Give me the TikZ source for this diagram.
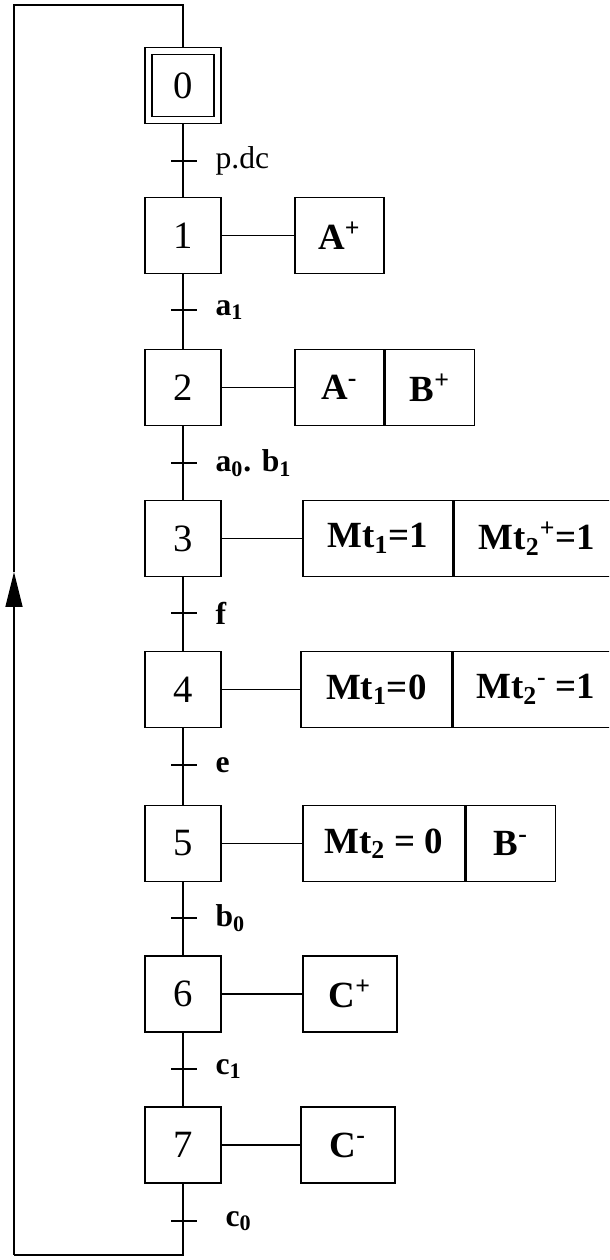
\documentclass[tikz,border=0pt]{standalone}
\usepackage{fontspec}
\setmainfont{Liberation Serif}
\usetikzlibrary{arrows.meta}
\tikzset{
  etape/.style={draw, minimum width=1.52cm, minimum height=1.52cm, font=\fontsize{22}{22}\selectfont},
  action/.style={draw, minimum height=1.52cm, anchor=west, font=\fontsize{21}{21}\selectfont\bfseries},
  recep/.style={anchor=west, font=\fontsize{18}{18}\selectfont\bfseries},
}
\begin{document}
\begin{tikzpicture}[x=0.02cm, y=-0.02cm, line width=0.9pt]
\clip (0,0) rectangle (609,1260);
% etapes
\node[etape] (s0) at (183,85.5) {};
\node[draw, minimum width=1.24cm, minimum height=1.24cm, font=\fontsize{22}{22}\selectfont] (s0i) at (s0) {0};
\node[etape] (s1) at (183,235.5) {1};
\node[etape] (s2) at (183,387.5) {2};
\node[etape] (s3) at (183,538.5) {3};
\node[etape] (s4) at (183,689.5) {4};
\node[etape] (s5) at (183,843.5) {5};
\node[etape] (s6) at (183,994) {6};
\node[etape] (s7) at (183,1145) {7};
\foreach \i/\j in {0/1,1/2,2/3,3/4,4/5,5/6,6/7}
  \draw (s\i) -- (s\j);
% actions
\node[action, minimum width=1.78cm] (act1) at (294,235.5) {A\textsuperscript{+}};
\node[action, minimum width=1.78cm] (act2a) at (294,387.5) {A\textsuperscript{-}};
\node[action, minimum width=1.78cm] (act2b) at (act2a.east) {B\textsuperscript{+}};
\node[action, minimum width=3cm] (act3a) at (302,538.5) {Mt\textsubscript{1}=1};
\node[action, minimum width=3.3cm] (act3b) at (act3a.east) {Mt\textsubscript{2}\textsuperscript{+}=1\hspace{0.35cm}};
\node[action, minimum width=3.02cm] (act4a) at (300,689.5) {Mt\textsubscript{1}=0};
\node[action, minimum width=3.3cm] (act4b) at (act4a.east) {Mt\textsubscript{2}\textsuperscript{-} =1\hspace{0.35cm}};
\node[action, minimum width=3.24cm] (act5a) at (302,843.5) {Mt\textsubscript{2} = 0};
\node[action, minimum width=1.78cm] (act5b) at (act5a.east) {B\textsuperscript{-}};
\node[action, minimum width=1.88cm] (act6) at (302,994) {C\textsuperscript{+}};
\node[action, minimum width=1.88cm] (act7) at (300,1145) {C\textsuperscript{-}};
\foreach \i/\a in {1/act1,2/act2a,3/act3a,4/act4a,5/act5a,6/act6,7/act7}
  \draw (s\i) -- (\a);
% receptivites
\foreach \n/\y/\txt in {0/161/{\mdseries p.dc},1/310/{a\textsubscript{1}},2/463/{a\textsubscript{0}. b\textsubscript{1}},
    3/613/f,4/765/e,5/918/{b\textsubscript{0}},6/1069/{c\textsubscript{1}},7/1221/{\hspace{0.2cm}c\textsubscript{0}}}{
  \coordinate (t\n) at (183,\y);
  \draw ([xshift=-0.24cm]t\n) -- ([xshift=0.28cm]t\n);
  \node[recep] (r\n) at (209,\y) {\txt};
}
% bouclage
\coordinate (bas) at (183,1255);
\coordinate (basg) at (14,1255);
\coordinate (fleche) at (14,572);
\coordinate (hautg) at (14,5);
\coordinate (haut) at (183,5);
\draw (s7) -- (bas) -- (basg);
\draw[-{Triangle[width=0.34cm,length=0.7cm]}] (basg) -- (fleche);
\draw (fleche) -- (hautg) -- (haut) -- (s0);
\end{tikzpicture}
\end{document}
